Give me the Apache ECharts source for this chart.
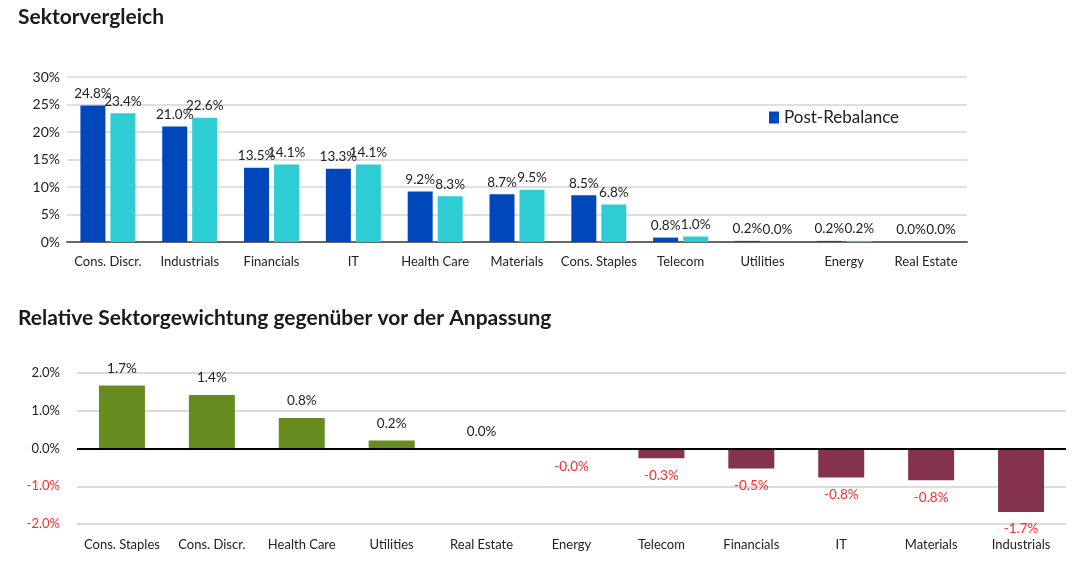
<!DOCTYPE html>
<html lang="de">
<head>
  <meta charset="UTF-8">
  <title>Sektorvergleich</title>
  <script src="https://cdn.jsdelivr.net/npm/echarts@6/dist/echarts.min.js"></script>
  <style>
    html, body { margin: 0; padding: 0; background: #fff; }
  </style>
</head>
<body>
  <div id="app" style="width: 1085px; height: 563px;"></div>
  <script>
    // Sektorvergleich: Post-Rebalance vs. vor der Anpassung
    var sectors = ['Cons. Discr.', 'Industrials', 'Financials', 'IT', 'Health Care', 'Materials',
                   'Cons. Staples', 'Telecom', 'Utilities', 'Energy', 'Real Estate']
    var postRebalance = [24.8, 21.0, 13.5, 13.3, 9.2, 8.7, 8.5, 0.8, 0.2, 0.2, 0.0]
    var preRebalance = [23.4, 22.6, 14.1, 14.1, 8.3, 9.5, 6.8, 1.0, 0.0, 0.2, 0.0]

    // Relative Gewichtung
    var relSectors = ['Cons. Staples', 'Cons. Discr.', 'Health Care', 'Utilities', 'Real Estate', 'Energy',
                      'Telecom', 'Financials', 'IT', 'Materials', 'Industrials']
    var relValues = [1.67, 1.42, 0.81, 0.21, 0.0, -0.03, -0.26, -0.53, -0.77, -0.84, -1.68]

    var font = 'Lato'
    var mCharts = echarts.init(document.querySelector('#app'))

    var relData = relValues.map(function (v) {
      var neg = v < 0
      return {
        value: v,
        itemStyle: { color: neg ? '#85334d' : '#668b1f' },
        label: {
          position: neg ? 'bottom' : 'top',
          color: neg ? '#ff2a2a' : '#222'
        }
      }
    })

    var pct = function (p) { return p.value.toFixed(1) + '%' }

    var option = {
      textStyle: { fontFamily: font },
      animation: false,
      title: [
        { text: 'Sektorvergleich', left: 13, top: 2,
          textStyle: { fontSize: 21, fontWeight: 'bold', color: '#1a1a1a', fontFamily: font } },
        { text: 'Relative Sektorgewichtung gegenüber vor der Anpassung', left: 13, top: 303,
          textStyle: { fontSize: 21, fontWeight: 'bold', color: '#1a1a1a', fontFamily: font } }
      ],
      legend: {
        data: ['Post-Rebalance'],
        left: 764, top: 104,
        itemWidth: 10, itemHeight: 12, itemGap: 6, icon: 'rect',
        textStyle: { fontSize: 17, color: '#222', fontFamily: font }
      },
      grid: [
        { left: 67, right: 118, top: 77, height: 165 },
        { left: 77, right: 19, top: 373, height: 151 }
      ],
      xAxis: [
        {
          gridIndex: 0, type: 'category', data: sectors,
          axisTick: { show: false },
          axisLine: { lineStyle: { color: '#666', width: 2 } },
          axisLabel: { color: '#222', fontSize: 13, margin: 13, interval: 0 }
        },
        {
          gridIndex: 1, type: 'category', data: relSectors,
          axisTick: { show: false },
          axisLine: { show: false, onZero: false },
          axisLabel: { color: '#222', fontSize: 13, margin: 14, interval: 0 }
        }
      ],
      yAxis: [
        {
          gridIndex: 0, type: 'value', min: 0, max: 30, interval: 5,
          axisLabel: { formatter: '{value}%', color: '#222', fontSize: 14, margin: 7 },
          splitLine: { lineStyle: { color: '#d4d4d4', width: 1.5 } }
        },
        {
          gridIndex: 1, type: 'value', min: -2, max: 2, interval: 1,
          axisLabel: {
            formatter: function (v) { return v.toFixed(1) + '%' },
            color: function (v) { return Number(v) < 0 ? '#ff2a2a' : '#222' },
            fontSize: 13, margin: 17
          },
          splitLine: { lineStyle: { color: '#cfcfcf', width: 1.5 } }
        }
      ],
      series: [
        {
          name: 'Post-Rebalance', type: 'bar', xAxisIndex: 0, yAxisIndex: 0,
          data: postRebalance, barWidth: 25, barGap: '20%',
          itemStyle: { color: '#0047bb' },
          label: { show: true, position: 'top', distance: 5, color: '#222', fontSize: 13.5, formatter: pct }
        },
        {
          name: 'Pre-Rebalance', type: 'bar', xAxisIndex: 0, yAxisIndex: 0,
          data: preRebalance, barWidth: 25,
          itemStyle: { color: '#2ecdd3' },
          label: { show: true, position: 'top', distance: 5, color: '#222', fontSize: 13.5, formatter: pct }
        },
        {
          name: 'Relative', type: 'bar', xAxisIndex: 1, yAxisIndex: 1,
          data: relData, barWidth: 46,
          label: { show: true, distance: 10, fontSize: 13.5, formatter: pct },
          markLine: {
            silent: true, symbol: 'none', label: { show: false },
            lineStyle: { color: '#000', width: 2, type: 'solid' },
            data: [{ yAxis: 0 }]
          }
        }
      ]
    }
    mCharts.setOption(option)
  </script>
</body>
</html>
